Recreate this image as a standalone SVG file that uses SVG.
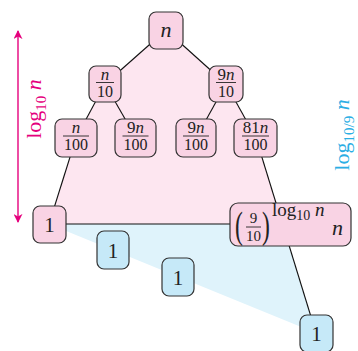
<svg xmlns="http://www.w3.org/2000/svg" width="358" height="351" viewBox="0 0 358 351">
<style>
.pk{fill:#f9d3e4;stroke:#333;stroke-width:1.2}
.bl{fill:#c6e9f8;stroke:#333;stroke-width:1.2}
.e{stroke:#111;stroke-width:1.1;fill:none}
.t{font-family:"Liberation Serif",serif;fill:#222}
.i{font-style:italic}
.bar{stroke:#222;stroke-width:0.9}
</style>
<defs>
<marker id="ah" viewBox="0 0 10 10" refX="9" refY="5" markerWidth="9" markerHeight="9" markerUnits="userSpaceOnUse" orient="auto-start-reverse">
<path d="M0,0 L10,5 L0,10 L3,5 Z" fill="#e5007d"/>
</marker>
</defs>
<rect width="358" height="351" fill="#fff"/>
<polygon points="166,30 105,84 76,138 49,224 282.5,224 256,138 226,84" fill="#fde6f0"/>
<polygon points="49,224 282.5,224 316,333" fill="#dff3fb"/>
<g id="connectors">
<line class="e" x1="166" y1="30" x2="105" y2="84"/>
<line class="e" x1="166" y1="30" x2="226" y2="84"/>
<line class="e" x1="105" y1="84" x2="76" y2="138"/>
<line class="e" x1="105" y1="84" x2="136" y2="138"/>
<line class="e" x1="226" y1="84" x2="196" y2="138"/>
<line class="e" x1="226" y1="84" x2="256" y2="138"/>
<line class="e" x1="76" y1="138" x2="49" y2="224"/>
<line class="e" x1="256" y1="138" x2="316" y2="333"/>
<line class="e" x1="49" y1="224" x2="290" y2="224"/>
<line x1="18" y1="31" x2="18" y2="222" stroke="#e5007d" stroke-width="1.4" marker-start="url(#ah)" marker-end="url(#ah)"/>
</g>
<g id="label-left">
<text class="t" font-size="22" style="fill:#e5007d" text-anchor="middle" transform="translate(41,109) rotate(-90)">log<tspan font-size="15" dy="5">10</tspan><tspan dy="-5"> </tspan><tspan class="i">n</tspan></text>
</g>
<g id="label-right">
<text class="t" font-size="22" style="fill:#2aaee4" text-anchor="middle" transform="translate(349,135) rotate(-90)">log<tspan font-size="15" dy="5">10/9</tspan><tspan dy="-5"> </tspan><tspan class="i">n</tspan></text>
</g>
<g id="node-n">
<rect class="pk" x="149" y="12" width="34" height="37" rx="7"/>
<text class="t i" x="166" y="37" font-size="22" text-anchor="middle">n</text>
</g>
<g id="node-n10">
<rect class="pk" x="89" y="66" width="32" height="36" rx="7"/>
<text class="t i" x="105" y="79.5" font-size="17" text-anchor="middle">n</text>
<line class="bar" x1="96" y1="82.5" x2="114" y2="82.5"/>
<text class="t" x="105" y="96.5" font-size="16" text-anchor="middle">10</text>
</g>
<g id="node-9n10">
<rect class="pk" x="209" y="66" width="34" height="36" rx="7"/>
<text class="t" x="226" y="79.5" font-size="17" text-anchor="middle">9<tspan class="i">n</tspan></text>
<line class="bar" x1="216" y1="82.5" x2="236" y2="82.5"/>
<text class="t" x="226" y="96.5" font-size="16" text-anchor="middle">10</text>
</g>
<g id="node-n100">
<rect class="pk" x="55" y="119" width="42" height="38" rx="7"/>
<text class="t i" x="76" y="133" font-size="17" text-anchor="middle">n</text>
<line class="bar" x1="63" y1="136" x2="89" y2="136"/>
<text class="t" x="76" y="150" font-size="16" text-anchor="middle">100</text>
</g>
<g id="node-9n100a">
<rect class="pk" x="115" y="119" width="41" height="38" rx="7"/>
<text class="t" x="135.5" y="133" font-size="17" text-anchor="middle">9<tspan class="i">n</tspan></text>
<line class="bar" x1="122.5" y1="136" x2="148.5" y2="136"/>
<text class="t" x="135.5" y="150" font-size="16" text-anchor="middle">100</text>
</g>
<g id="node-9n100b">
<rect class="pk" x="176" y="119" width="40" height="38" rx="7"/>
<text class="t" x="196" y="133" font-size="17" text-anchor="middle">9<tspan class="i">n</tspan></text>
<line class="bar" x1="183" y1="136" x2="209" y2="136"/>
<text class="t" x="196" y="150" font-size="16" text-anchor="middle">100</text>
</g>
<g id="node-81n100">
<rect class="pk" x="234" y="119" width="43" height="38" rx="7"/>
<text class="t" x="255.5" y="133" font-size="17" text-anchor="middle">81<tspan class="i">n</tspan></text>
<line class="bar" x1="242" y1="136" x2="269" y2="136"/>
<text class="t" x="255.5" y="150" font-size="16" text-anchor="middle">100</text>
</g>
<g id="node-1-left">
<rect class="pk" x="33" y="206" width="33" height="37" rx="7"/>
<text class="t" x="49.5" y="232" font-size="21" text-anchor="middle">1</text>
</g>
<g id="node-big">
<rect class="pk" x="230" y="203" width="121" height="43" rx="8"/>
<text class="t" font-size="38" transform="translate(235,238) scale(0.62,1)">(</text>
<text class="t" x="253.5" y="223" font-size="15" text-anchor="middle">9</text>
<line class="bar" x1="246" y1="227" x2="261" y2="227"/>
<text class="t" x="253.5" y="241" font-size="15" text-anchor="middle">10</text>
<text class="t" font-size="38" transform="translate(262,238) scale(0.62,1)">)</text>
<text class="t" x="272" y="216" font-size="19">log<tspan font-size="14" dy="4">10</tspan><tspan dy="-4"> </tspan><tspan class="i">n</tspan></text>
<text class="t i" x="332" y="235" font-size="22">n</text>
</g>
<g id="node-1-blue-a">
<rect class="bl" x="97" y="231" width="32" height="38" rx="7"/>
<text class="t" x="113" y="257.5" font-size="21" text-anchor="middle">1</text>
</g>
<g id="node-1-blue-b">
<rect class="bl" x="162" y="258" width="32" height="38" rx="7"/>
<text class="t" x="178" y="284.5" font-size="21" text-anchor="middle">1</text>
</g>
<g id="node-1-blue-c">
<rect class="bl" x="300" y="315" width="33" height="37" rx="7"/>
<text class="t" x="316.5" y="341" font-size="21" text-anchor="middle">1</text>
</g>
</svg>
